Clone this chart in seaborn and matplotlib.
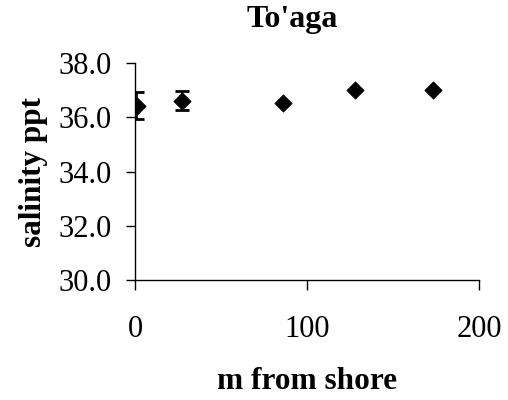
import matplotlib
matplotlib.use("Agg")
import matplotlib.pyplot as plt
import seaborn as sns
import pandas as pd

# Salinity along the transect at To'aga
distance_m = [1.3, 27.3, 86.0, 128.0, 173.0]
salinity_ppt = [36.43, 36.62, 36.53, 37.03, 37.03]
salinity_err = [0.50, 0.34, 0.0, 0.0, 0.0]

x_ticks = [0, 100, 200]
y_ticks = [30.0, 32.0, 34.0, 36.0, 38.0]

sns.set_theme(style="white")
plt.rcParams["font.family"] = ["Liberation Serif", "DejaVu Serif"]
plt.rcParams["text.color"] = "black"
plt.rcParams["axes.labelcolor"] = "black"
plt.rcParams["xtick.color"] = "black"
plt.rcParams["ytick.color"] = "black"

df = pd.DataFrame({"distance": distance_m, "salinity": salinity_ppt, "err": salinity_err})

fig = plt.figure(figsize=(5.08, 4.0), dpi=100)
ax = fig.add_axes([135 / 508, 1 - 280 / 400, (479 - 135) / 508, (280 - 63.3) / 400])

bars = df[df["err"] > 0]
ax.errorbar(bars["distance"], bars["salinity"], yerr=bars["err"], fmt="none",
            ecolor="black", elinewidth=1.3, capsize=5, capthick=2, zorder=2)
sns.scatterplot(data=df, x="distance", y="salinity", marker="D", s=78,
                color="black", edgecolor="black", linewidth=0.5, ax=ax, zorder=3)

ax.set_xlim(0, 200)
ax.set_ylim(30, 38)
ax.set_xticks(x_ticks)
ax.set_yticks(y_ticks)
ax.set_xticklabels([str(t) for t in x_ticks])
ax.set_yticklabels([f"{t:.1f}" for t in y_ticks])

for side in ("top", "right"):
    ax.spines[side].set_visible(False)
for side in ("left", "bottom"):
    ax.spines[side].set_color("black")
    ax.spines[side].set_linewidth(1.0)

ax.tick_params(axis="x", direction="out", length=7, width=1, colors="black",
               labelsize=22, pad=18, bottom=True)
ax.tick_params(axis="y", direction="out", length=6.5, width=1, colors="black",
               labelsize=22, pad=10, left=True)

ax.set_xlabel("m from shore", fontsize=22.5, fontweight="bold", labelpad=17)
ax.set_ylabel("salinity ppt", fontsize=22.5, fontweight="bold", labelpad=8)
fig.text(292 / 508, 1 - 20 / 400, "To'aga", ha="center", va="center",
         fontsize=23, fontweight="bold")

fig.savefig("out.png", dpi=100, facecolor="white")
